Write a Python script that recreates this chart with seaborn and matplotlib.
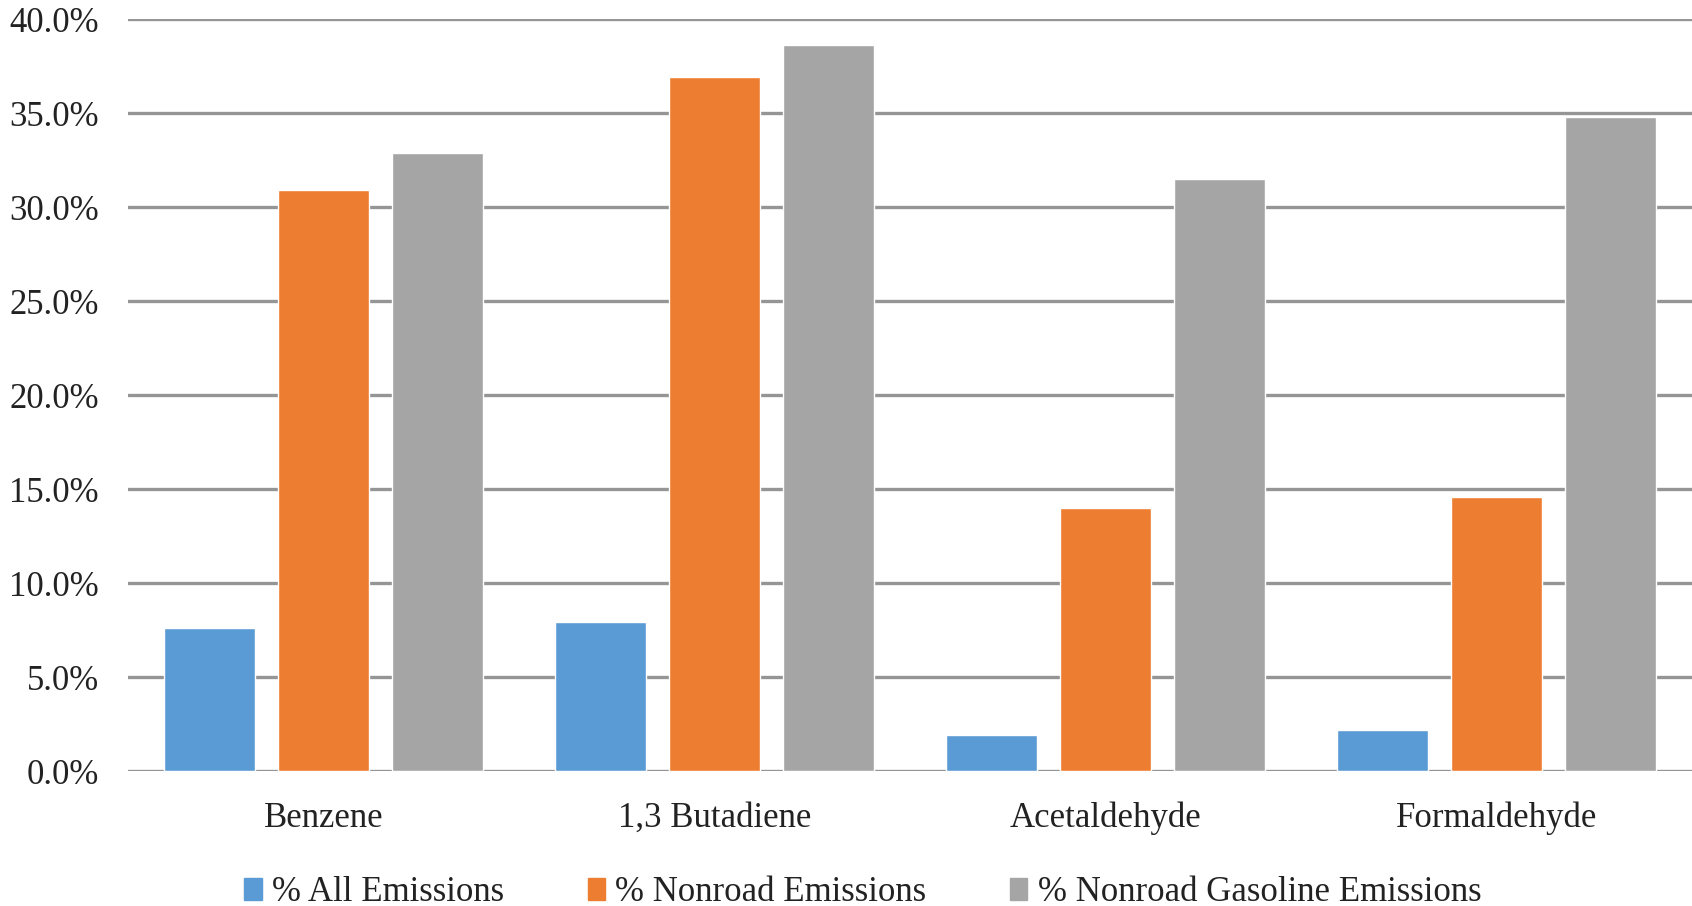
import matplotlib
matplotlib.use("Agg")
import matplotlib.pyplot as plt
from matplotlib.ticker import FuncFormatter, MultipleLocator
import pandas as pd
import seaborn as sns

# Pollutants and their nonroad shares (percent)
categories = ["Benzene", "1,3 Butadiene", "Acetaldehyde", "Formaldehyde"]
series_names = ["% All Emissions", "% Nonroad Emissions", "% Nonroad Gasoline Emissions"]
all_emissions = [7.6, 7.9, 1.9, 2.2]
nonroad_emissions = [30.9, 36.9, 14.0, 14.6]
nonroad_gasoline_emissions = [32.9, 38.6, 31.5, 34.8]
colors = ["#5B9BD5", "#ED7D31", "#A5A5A5"]

rows = []
for name, vals in zip(series_names, [all_emissions, nonroad_emissions, nonroad_gasoline_emissions]):
    for cat, v in zip(categories, vals):
        rows.append({"Pollutant": cat, "Series": name, "Share": v})
df = pd.DataFrame(rows)

sns.set_theme(style="white")
plt.rcParams["font.family"] = ["Liberation Serif", "DejaVu Serif"]

fig = plt.figure(figsize=(16.92, 9.06), dpi=100)
ax = fig.add_axes([0.0757, 0.149, 0.9243, 0.830])

sns.barplot(data=df, x="Pollutant", y="Share", hue="Series", order=categories,
            hue_order=series_names, palette=colors, saturation=1,
            width=0.873, gap=0.2, ax=ax, legend=False, zorder=3)

ax.set_ylim(0, 40)
ax.set_xlim(-0.5, 3.5)
ax.yaxis.set_major_locator(MultipleLocator(5))
ax.yaxis.set_major_formatter(FuncFormatter(lambda v, p: f"{v:.1f}%"))
ax.grid(axis="y", color="#959595", linewidth=2.4, zorder=0)
ax.set_axisbelow(True)
for s in ax.spines.values():
    s.set_visible(False)
ax.set_xlabel("")
ax.set_ylabel("")
ax.tick_params(axis="y", length=0, pad=21, labelsize=25, labelcolor="#222222")
ax.tick_params(axis="x", length=0, pad=22, labelsize=25, labelcolor="#222222")

handles = [plt.Rectangle((0, 0), 1, 1, color=c) for c in colors]
fig.legend(handles, series_names, loc="center", bbox_to_anchor=(0.51, 0.015),
           ncol=3, frameon=False, fontsize=25, handlelength=0.5, handleheight=0.6,
           handletextpad=0.3, columnspacing=2.4, labelcolor="#222222")

fig.savefig("out.png", dpi=100, facecolor="white")
